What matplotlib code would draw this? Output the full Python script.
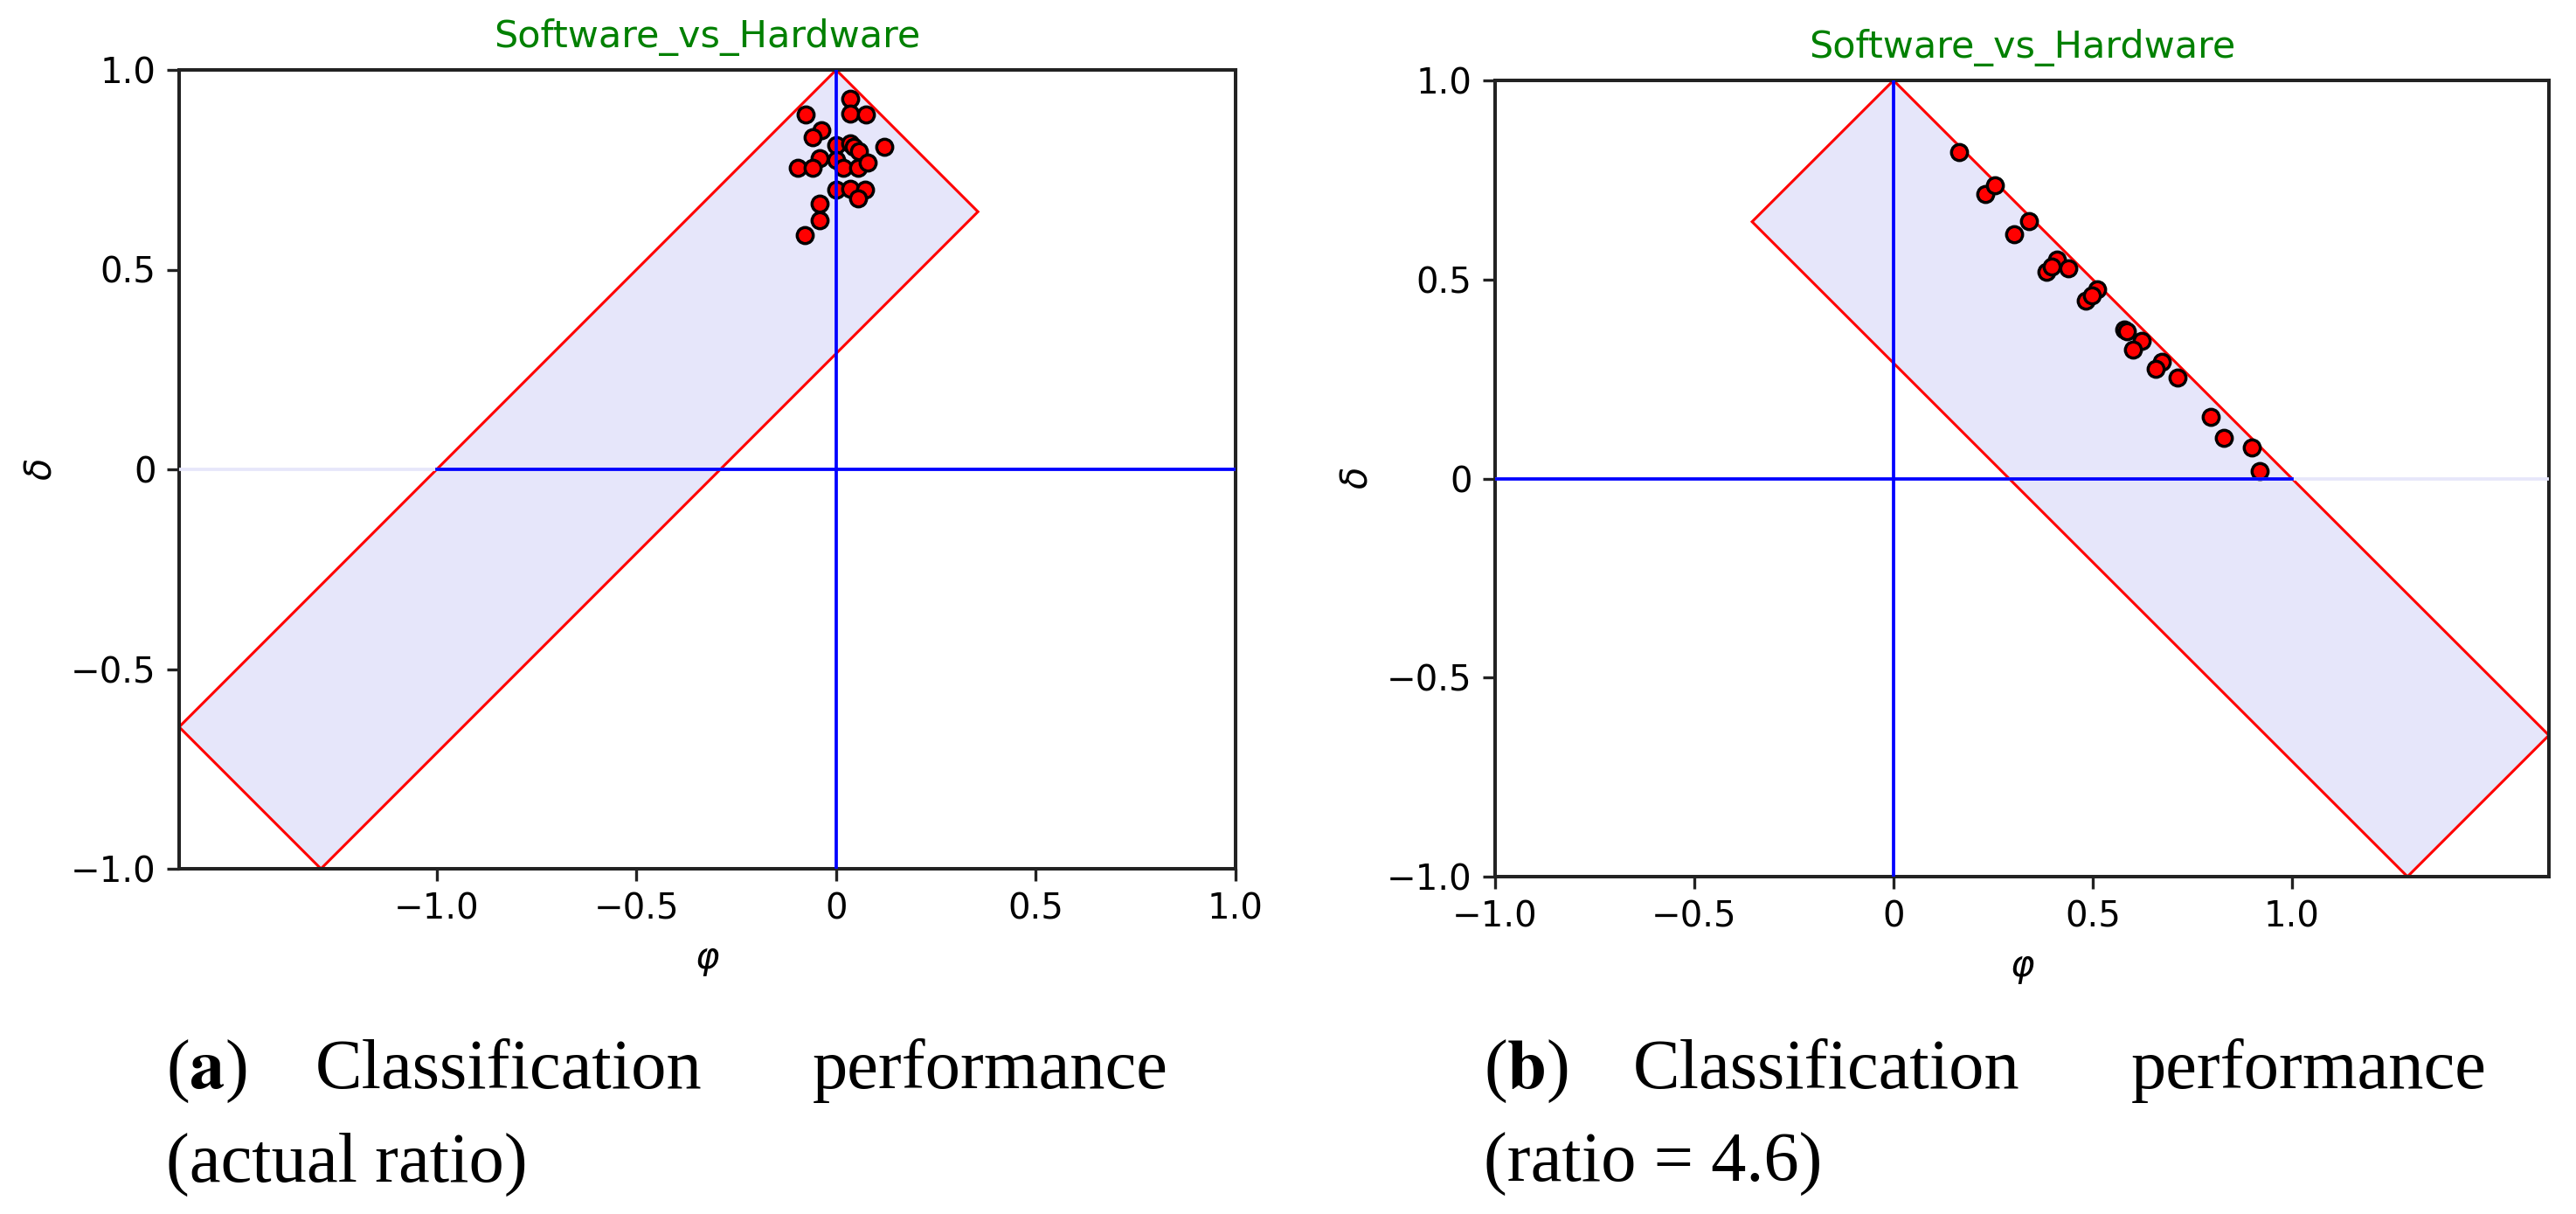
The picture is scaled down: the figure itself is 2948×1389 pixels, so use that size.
import matplotlib
matplotlib.use("Agg")
import matplotlib.pyplot as plt
from matplotlib.patches import Polygon

plt.rcParams["font.family"] = ["DejaVu Sans"]
plt.rcParams["mathtext.fontset"] = "dejavusans"

# (a) actual ratio
phi_actual = [0.036, -0.077, 0.036, 0.074, -0.037, -0.059, 0.0, 0.036, 0.043, 0.058,
              0.120, -0.041, 0.0, -0.096, -0.059, 0.018, 0.055, 0.080, 0.0, 0.036,
              0.073, 0.055, -0.041, -0.041, -0.079]
delta_actual = [0.928, 0.889, 0.891, 0.889, 0.848, 0.831, 0.812, 0.816, 0.807, 0.796,
                0.807, 0.778, 0.774, 0.756, 0.756, 0.756, 0.756, 0.767, 0.701, 0.702,
                0.701, 0.679, 0.665, 0.624, 0.586]

# (b) ratio = 4.6
phi_ratio = [0.164, 0.230, 0.255, 0.339, 0.302, 0.411, 0.384, 0.396, 0.439, 0.511,
             0.483, 0.497, 0.579, 0.585, 0.624, 0.600, 0.674, 0.657, 0.713, 0.797,
             0.830, 0.899, 0.920]
delta_ratio = [0.820, 0.714, 0.736, 0.646, 0.614, 0.551, 0.519, 0.532, 0.527, 0.476,
               0.447, 0.460, 0.375, 0.370, 0.346, 0.323, 0.293, 0.275, 0.254, 0.154,
               0.103, 0.077, 0.018]

# shaded region corners
region_phi_a = [0.0, 0.355, -1.29, -1.645]
region_delta_a = [1.0, 0.645, -1.0, -0.645]
region_phi_b = [0.0, -0.355, 1.29, 1.645]
region_delta_b = [1.0, 0.645, -1.0, -0.645]

tick_vals = [-1.0, -0.5, 0.0, 0.5, 1.0]
tick_labels = ["\u22121.0", "\u22120.5", "0", "0.5", "1.0"]
title = "Software_vs_Hardware"

W, H = 2948, 1389
fig = plt.figure(figsize=(W / 100, H / 100), dpi=100)


def draw_panel(rect, phi, delta, region_phi, region_delta):
    ax = fig.add_axes(rect)
    poly = Polygon(list(zip(region_phi, region_delta)), closed=True,
                   facecolor="lavender", edgecolor="red", linewidth=2.2, zorder=1)
    ax.add_patch(poly)
    ax.scatter(phi, delta, s=175, c="red", edgecolors="black", linewidths=2.5, zorder=2)
    ax.axhline(0, color="lavender", linewidth=2.7, zorder=3)
    ax.plot([-1, 1], [0, 0], color="blue", linewidth=2.7, zorder=4)
    ax.axvline(0, color="blue", linewidth=2.7, zorder=4)

    ax.set_xlim(min(min(region_phi), -1.0), max(max(region_phi), 1.0))
    ax.set_ylim(-1.0, 1.0)
    ax.set_xticks(tick_vals)
    ax.set_xticklabels(tick_labels)
    ax.set_yticks(tick_vals)
    ax.set_yticklabels(tick_labels)
    ax.tick_params(labelsize=29, length=10, width=2.4, pad=9, color="#222222")
    for sp in ax.spines.values():
        sp.set_linewidth(2.9)
        sp.set_color("#222222")
    ax.set_xlabel(r"$\varphi$", fontsize=30, labelpad=12)
    ax.set_ylabel(r"$\delta$", fontsize=30, labelpad=10)
    ax.set_title(title, color="green", fontsize=31, pad=19)
    return ax


draw_panel([205 / W, 1 - 994 / H, 1209 / W, 914 / H],
           phi_actual, delta_actual, region_phi_a, region_delta_a)
draw_panel([1711 / W, 1 - 1003 / H, 1206 / W, 911 / H],
           phi_ratio, delta_ratio, region_phi_b, region_delta_b)

# captions
cap = dict(family="Liberation Serif", fontsize=58, va="baseline", math_fontfamily="stix")


def caption(x0, x1, letter, rest):
    y1 = 1 - 1245 / H
    y2 = 1 - 1352 / H
    fig.text(x0 / W, y1, r"($\mathbf{%s}$)" % letter, ha="left", **cap)
    fig.text((x0 + 171) / W, y1, "Classification", ha="left", **cap)
    fig.text(x1 / W, y1, "performance", ha="right", **cap)
    fig.text(x0 / W, y2, rest, ha="left", **cap)


caption(190, 1337, "a", "(actual ratio)")
caption(1698, 2846, "b", "(ratio = 4.6)")

fig.savefig("out.png", dpi=100)
